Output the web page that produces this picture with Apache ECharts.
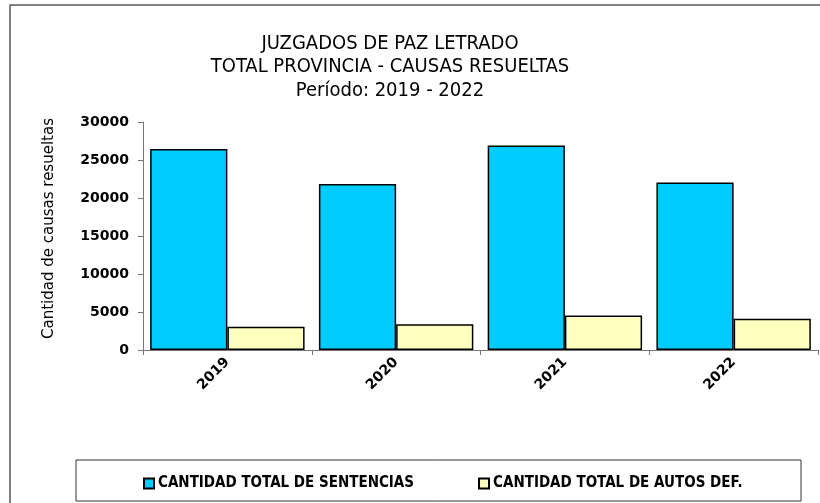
<!DOCTYPE html>
<html>
<head>
<meta charset="utf-8">
<script src="https://cdn.jsdelivr.net/npm/echarts@6/dist/echarts.min.js"></script>
<style>
  html, body { margin: 0; padding: 0; background: #fff; }
  #chart { width: 820px; height: 503px; }
</style>
</head>
<body>
<div id="chart"></div>
<script>
// data
const years = ['2019', '2020', '2021', '2022']
const sentencias = [26450, 21850, 26900, 22050]
const autosDef = [3050, 3400, 4550, 4100]
const yTicks = [0, 5000, 10000, 15000, 20000, 25000, 30000]
const titleLines = ['JUZGADOS DE PAZ LETRADO', 'TOTAL PROVINCIA - CAUSAS RESUELTAS', 'Período: 2019 - 2022']
const seriesNames = ['CANTIDAD TOTAL DE SENTENCIAS', 'CANTIDAD TOTAL DE AUTOS DEF.']

const condensed = "'DejaVu Sans Condensed', 'Liberation Sans Narrow', sans-serif"
const wide = "'DejaVu Sans', sans-serif"

const chart = echarts.init(document.getElementById('chart'))

const option = {
  backgroundColor: '#fff',
  animation: false,
  title: {
    text: titleLines.join('\n'),
    left: 385,
    textAlign: 'center',
    top: 27,
    textStyle: {
      fontFamily: condensed,
      fontSize: 20,
      fontWeight: 'normal',
      color: '#000',
      lineHeight: 23.5
    }
  },
  graphic: [
    {
      type: 'rect',
      shape: { x: 10, y: 5, width: 840, height: 540 },
      style: { fill: null, stroke: '#555', lineWidth: 1.5 },
      silent: true
    },
    {
      type: 'rect',
      shape: { x: 76, y: 460, width: 725, height: 41 },
      style: { fill: null, stroke: '#333', lineWidth: 1 },
      silent: true
    }
  ],
  legend: {
    left: 138,
    top: 471,
    itemWidth: 10,
    itemHeight: 10,
    itemGap: 64,
    icon: 'rect',
    textStyle: {
      fontFamily: condensed,
      fontSize: 15,
      fontWeight: 'bold',
      color: '#000',
      padding: [0, 0, 0, -1]
    },
    data: seriesNames
  },
  grid: {
    left: 143,
    right: 2,
    top: 122,
    bottom: 153,
    containLabel: false
  },
  xAxis: {
    type: 'category',
    data: years,
    axisLine: { show: true, lineStyle: { color: '#777', width: 1 } },
    axisTick: { show: true, alignWithLabel: false, length: 5, lineStyle: { color: '#777' } },
    axisLabel: {
      rotate: 45,
      margin: 10,
      fontFamily: wide,
      fontSize: 14,
      fontWeight: 'bold',
      color: '#000'
    }
  },
  yAxis: {
    type: 'value',
    min: yTicks[0],
    max: yTicks[yTicks.length - 1],
    interval: yTicks[1] - yTicks[0],
    name: 'Cantidad de causas resueltas',
    nameLocation: 'middle',
    nameGap: 86,
    nameRotate: 90,
    nameTextStyle: {
      fontFamily: wide,
      fontSize: 15,
      color: '#000',
      padding: [0, 0, 0, 15]
    },
    axisLine: { show: true, lineStyle: { color: '#777', width: 1 } },
    axisTick: { show: true, length: 5, lineStyle: { color: '#777' } },
    splitLine: { show: false },
    axisLabel: {
      margin: 14,
      fontFamily: wide,
      fontSize: 14,
      fontWeight: 'bold',
      color: '#000',
      formatter: v => String(v)
    }
  },
  series: [
    {
      name: seriesNames[0],
      type: 'bar',
      data: sentencias,
      barGap: '0%',
      barCategoryGap: '8.5%',
      itemStyle: { color: '#00CCFF', borderColor: '#000', borderWidth: 1.5 }
    },
    {
      name: seriesNames[1],
      type: 'bar',
      data: autosDef,
      itemStyle: { color: '#FFFFC0', borderColor: '#000', borderWidth: 1.5 }
    }
  ]
}

chart.setOption(option)
</script>
</body>
</html>
